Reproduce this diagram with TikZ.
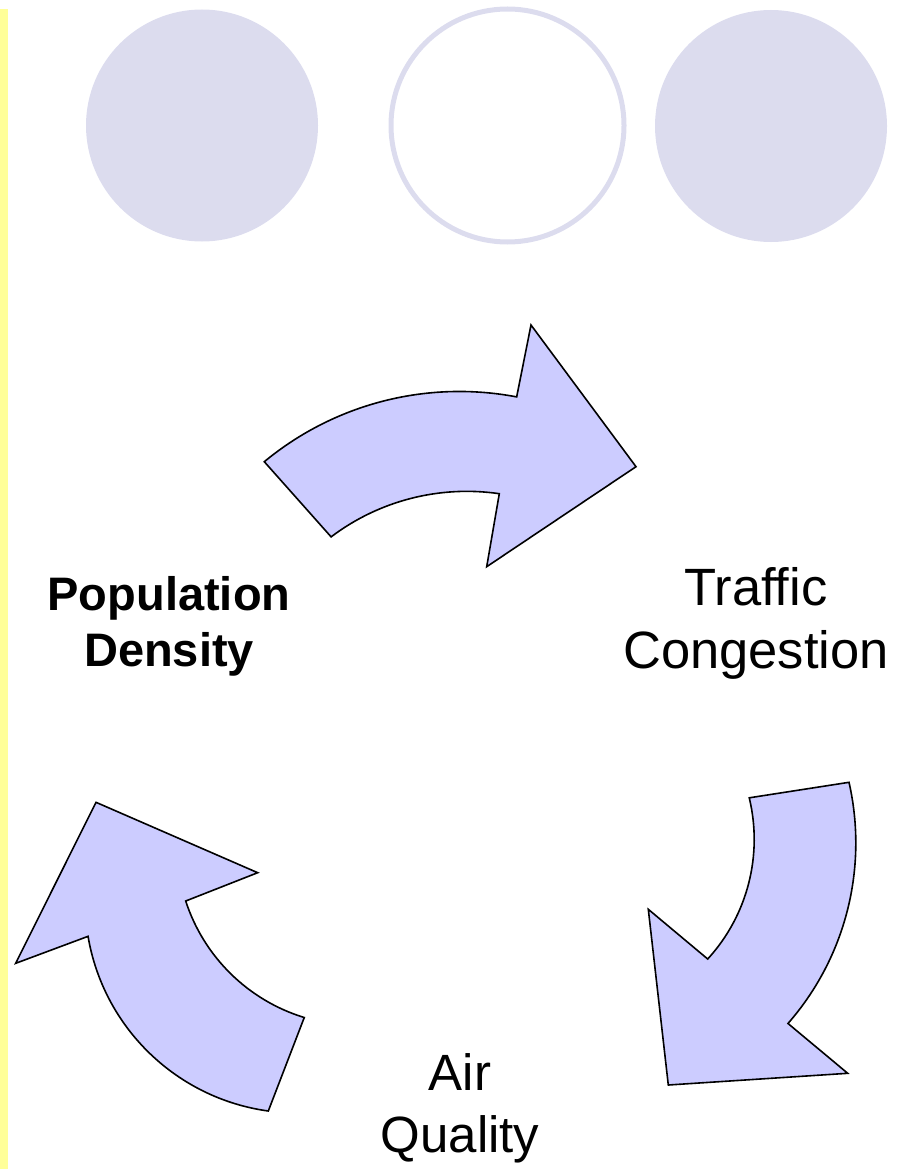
\documentclass[tikz,border=0pt]{standalone}
\usepackage{fontspec}
\setmainfont[Ligatures=NoCommon]{Liberation Sans}
\usepackage{tikz}
\usetikzlibrary{shapes,positioning}
\usepackage{xcolor}
\definecolor{lavendercustom}{RGB}{220,220,238}
\definecolor{bluecustom}{RGB}{204,204,255}
\definecolor{yellowcustom}{RGB}{255,255,153}

\begin{document}
\begin{tikzpicture}[x=1pt, y=-1pt,
    bigdot/.style={circle, fill=lavendercustom, minimum size=232pt, inner sep=0pt},
    ringdot/.style={circle, draw=lavendercustom, line width=5pt, minimum size=233pt, inner sep=0pt},
    cyclearrow/.style={draw=black, fill=bluecustom, line width=1.6pt, line join=miter},
    cycletext/.style={align=center, inner sep=0pt}]
    \useasboundingbox (0,0) rectangle (910,1169);

    % side bar
    \fill[yellowcustom] (0,9) rectangle (8,1169);

    % three dots on top
    \node[bigdot] (leftdot) at (202,125.5) {};
    \node[ringdot] (middot) at (507.5,125.5) {};
    \node[bigdot] (rightdot) at (771,126) {};

    % cycle arrows
    \draw[cyclearrow] (264.3,461.7) arc[start angle=-129.6, end angle=-79.2, radius=306]
        -- (531,325) -- (636,466.7) -- (486.7,566.7) -- (499.3,493.7)
        arc[start angle=-81.7, end angle=-127.1, radius=225] -- cycle;
    \draw[cyclearrow] (849,782.3) arc[start angle=-12.8, end angle=41.2, radius=274]
        -- (847.7,1073.3) -- (668.3,1085) -- (648.3,909.3) -- (707.7,959)
        arc[start angle=42.5, end angle=-13.6, radius=177] -- cycle;
    \draw[cyclearrow] (268.3,1111) arc[start angle=97.8, end angle=170.4, radius=212]
        -- (15.7,963.3) -- (96,802.3) -- (257.7,872.7) -- (185.7,901)
        arc[start angle=162, end angle=107, radius=180] -- cycle;

    % labels
    \node[cycletext, font=\bfseries\fontsize{47}{56}\selectfont] (popdensity) at (169,626) {Population\\Density};
    \node[cycletext, font=\fontsize{52.5}{63}\selectfont] (traffic) at (756,623) {Traffic\\Congestion};
    \node[cycletext, font=\fontsize{51}{62}\selectfont] (airquality) at (460,1108) {Air\\Quality};
\end{tikzpicture}
\end{document}
